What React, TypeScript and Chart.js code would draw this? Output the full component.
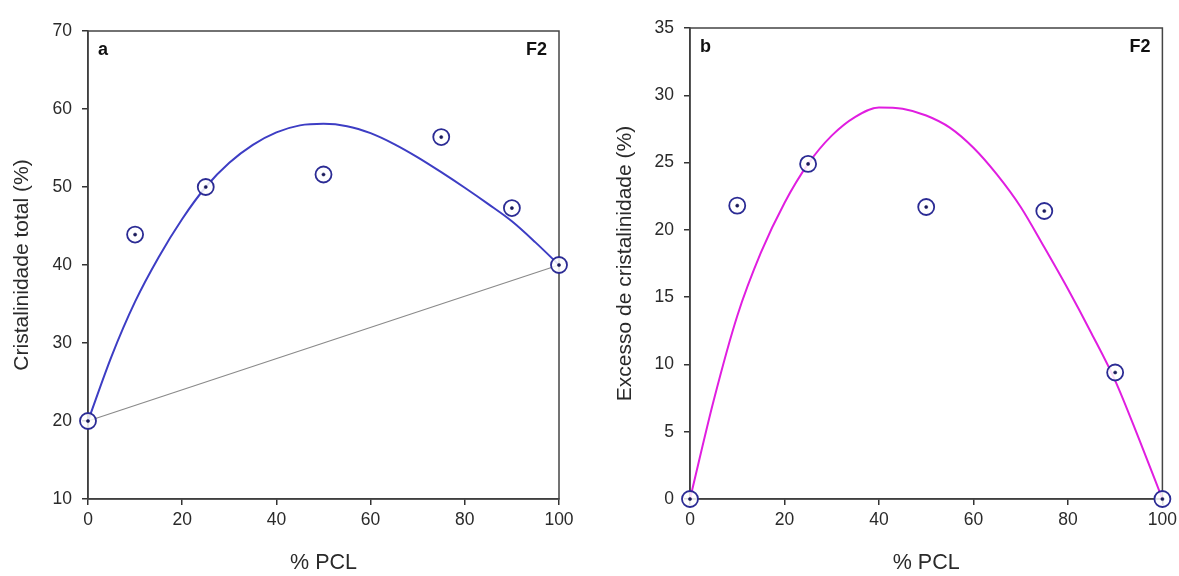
import React, { useEffect, useRef } from "react";
import { Chart, registerables } from "chart.js";

Chart.register(...registerables);

// Measured samples: composition (% PCL) and crystallinity values
const PCL = [0, 10, 25, 50, 75, 90, 100];
const TOTAL_CRYST = [20, 43.9, 50, 51.6, 56.4, 47.3, 40];
const EXCESS_CRYST = [0, 21.8, 24.9, 21.7, 21.4, 9.4, 0];

// Fitted curves, sampled along the composition axis
const FIT_X = [0, 5, 10, 15, 20, 25, 30, 35, 40, 45, 50, 55, 60, 65, 70, 75, 80, 85, 90, 95, 100];
const TOTAL_FIT = [20, 28.3, 35.3, 41.0, 45.9, 50, 53.1, 55.4, 57.0, 57.9, 58.1, 57.8, 56.9, 55.5, 53.8, 51.9, 49.9, 47.8, 45.6, 42.9, 40];
const EXCESS_FIT = [0, 7.3, 13.6, 18.3, 22.0, 24.9, 27.0, 28.4, 29.1, 29.0, 28.5, 27.6, 26.1, 24.1, 21.7, 18.7, 15.6, 12.3, 8.8, 4.5, 0];

// Additive (linear mixing) line between the pure components
const ADDITIVE_X = [0, 100];
const ADDITIVE_Y = [20, 40];

const X_TICKS = [0, 20, 40, 60, 80, 100];

const FONT = "'Liberation Sans', Arial, sans-serif";
const TEXT = "#2a2a2a";
const AXIS = "#333333";
const MARKER = "#2b2b94";

const pts = (xs: number[], ys: number[]) => xs.map((x, i) => ({ x, y: ys[i] }));

type PanelSpec = {
  letter: string;
  tag: string;
  yTitle: string;
  yMin: number;
  yMax: number;
  yStep: number;
  values: number[];
  fit: number[];
  fitColor: string;
  additive: boolean;
  yAxisWidth: number;
  padTop: number;
  padRight: number;
  yTitlePad: number;
};

const framePlugin = {
  id: "frame",
  beforeDatasetsDraw(chart: any) {
    const { ctx, chartArea } = chart;
    ctx.save();
    ctx.strokeStyle = "#444";
    ctx.lineWidth = 1.5;
    ctx.strokeRect(chartArea.left, chartArea.top, chartArea.right - chartArea.left, chartArea.bottom - chartArea.top);
    ctx.restore();
  },
  afterDatasetsDraw(chart: any) {
    const { ctx, chartArea } = chart;
    const spec = chart.options.plugins.frame;
    ctx.save();
    ctx.fillStyle = "#111";
    ctx.font = `bold 18px ${FONT}`;
    ctx.textBaseline = "middle";
    ctx.textAlign = "left";
    ctx.fillText(spec.letter, chartArea.left + 10, chartArea.top + 19);
    ctx.textAlign = "right";
    ctx.fillText(spec.tag, chartArea.right - 12, chartArea.top + 19);
    ctx.restore();
  },
};

function Panel({ spec, left, width }: { spec: PanelSpec; left: number; width: number }) {
  const ref = useRef<HTMLCanvasElement | null>(null);

  useEffect(() => {
    if (!ref.current) return;
    const yTicks: number[] = [];
    for (let v = spec.yMin; v <= spec.yMax + 1e-9; v += spec.yStep) yTicks.push(v);

    // Lower `order` is painted later, i.e. on top
    const datasets: any[] = [];
    if (spec.additive) {
      datasets.push({
        order: 3,
        data: pts(ADDITIVE_X, ADDITIVE_Y),
        showLine: true,
        borderColor: "#8a8a8a",
        borderWidth: 1.2,
        pointRadius: 0,
        clip: false,
      });
    }
    datasets.push({
      order: 2,
      data: pts(FIT_X, spec.fit),
      showLine: true,
      borderColor: spec.fitColor,
      borderWidth: 2,
      pointRadius: 0,
      cubicInterpolationMode: "monotone",
      clip: false,
    });
    datasets.push({
      order: 1,
      data: pts(PCL, spec.values),
      showLine: false,
      pointRadius: 8,
      pointBorderWidth: 1.8,
      pointBorderColor: MARKER,
      pointBackgroundColor: "rgba(255,255,255,0.85)",
      clip: false,
    });
    datasets.push({
      order: 0,
      data: pts(PCL, spec.values),
      showLine: false,
      pointStyle: "circle",
      pointRadius: 1.6,
      pointBorderWidth: 0.5,
      pointBorderColor: "#1a1a5a",
      pointBackgroundColor: "#1a1a5a",
      clip: false,
    });

    const chart = new Chart(ref.current, {
      type: "scatter",
      data: { datasets },
      plugins: [framePlugin],
      options: {
        animation: false,
        responsive: false,
        maintainAspectRatio: false,
        events: [],
        layout: { padding: { top: spec.padTop, right: spec.padRight, left: 0, bottom: 0 } },
        plugins: {
          legend: { display: false },
          tooltip: { enabled: false },
          frame: { letter: spec.letter, tag: spec.tag },
        } as any,
        scales: {
          x: {
            type: "linear",
            min: 0,
            max: 100,
            afterBuildTicks: (s: any) => {
              s.ticks = X_TICKS.map((v) => ({ value: v }));
            },
            afterFit: (s: any) => {
              s.height = 77;
            },
            ticks: { color: TEXT, font: { family: FONT, size: 17.5 }, padding: 5 },
            grid: { drawOnChartArea: false, drawTicks: true, tickLength: 6, color: AXIS, lineWidth: 1.5 },
            border: { display: true, color: AXIS, width: 1.5 },
            title: {
              display: true,
              text: "% PCL",
              color: TEXT,
              font: { family: FONT, size: 21.5 },
              padding: { top: 0, bottom: 0 },
            },
          },
          y: {
            type: "linear",
            min: spec.yMin,
            max: spec.yMax,
            afterBuildTicks: (s: any) => {
              s.ticks = yTicks.map((v) => ({ value: v }));
            },
            afterFit: (s: any) => {
              s.width = spec.yAxisWidth;
            },
            ticks: { color: TEXT, font: { family: FONT, size: 17.5 }, padding: 10 },
            grid: { drawOnChartArea: false, drawTicks: true, tickLength: 6, color: AXIS, lineWidth: 1.5 },
            border: { display: true, color: AXIS, width: 1.5 },
            title: {
              display: true,
              text: spec.yTitle,
              color: TEXT,
              font: { family: FONT, size: 21 },
              padding: { top: spec.yTitlePad, bottom: 0 },
            },
          },
        },
      },
    });
    return () => chart.destroy();
  }, [spec]);

  return (
    <canvas
      ref={ref}
      width={width}
      height={576}
      style={{ position: "absolute", left, top: 0, width, height: 576 }}
    />
  );
}

const LEFT_PANEL: PanelSpec = {
  letter: "a",
  tag: "F2",
  yTitle: "Cristalinidade total (%)",
  yMin: 10,
  yMax: 70,
  yStep: 10,
  values: TOTAL_CRYST,
  fit: TOTAL_FIT,
  fitColor: "#3d3dc4",
  additive: true,
  yAxisWidth: 88,
  padTop: 31,
  padRight: 31,
  yTitlePad: 10,
};

const RIGHT_PANEL: PanelSpec = {
  letter: "b",
  tag: "F2",
  yTitle: "Excesso de cristalinidade (%)",
  yMin: 0,
  yMax: 35,
  yStep: 5,
  values: EXCESS_CRYST,
  fit: EXCESS_FIT,
  fitColor: "#e01ee0",
  additive: false,
  yAxisWidth: 100,
  padTop: 28,
  padRight: 13,
  yTitlePad: 23,
};

export default function App() {
  return (
    <div
      style={{
        position: "fixed",
        left: 0,
        top: 0,
        width: 1179,
        height: 576,
        overflow: "hidden",
        background: "#fff",
      }}
    >
      <Panel spec={LEFT_PANEL} left={0} width={590} />
      <Panel spec={RIGHT_PANEL} left={590} width={592} />
    </div>
  );
}
